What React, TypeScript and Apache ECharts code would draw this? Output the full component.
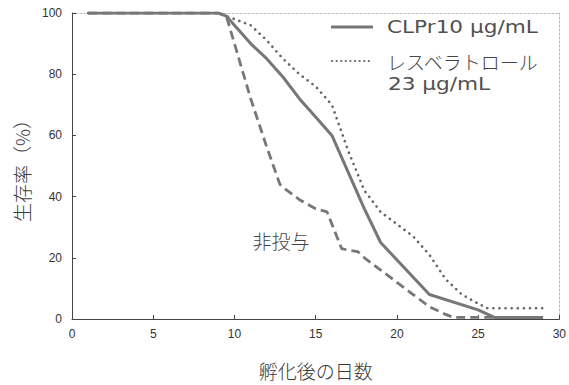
import React, { useEffect, useRef } from "react";
import * as echarts from "echarts";

const xTicks = [0, 5, 10, 15, 20, 25, 30];
const yTicks = [0, 20, 40, 60, 80, 100];

const clprName = "CLPr10 μg/mL";
const resName = "レスベラトロール";
const resName2 = "23 μg/mL";
const ctrlName = "非投与";
const xName = "孵化後の日数";
const yName = "生存率（%）";

const clprData: [number, number][] = [
  [1, 100], [9, 100], [9.5, 99], [10, 96], [11, 90], [12, 85], [13, 79], [14, 72],
  [15, 66], [16, 60], [17, 48], [18, 36], [19, 25], [22, 8], [25, 3], [26, 0.5], [29, 0.5],
];

const resData: [number, number][] = [
  [1, 100], [9, 100], [10, 98], [11, 96], [12, 91], [13, 85], [14, 80], [15, 76],
  [16, 70], [17, 55], [18, 42], [19, 35], [20, 31], [21, 27], [22, 21], [23, 13],
  [24, 8], [25, 5], [25.6, 3.5], [29, 3.5],
];

const ctrlData: [number, number][] = [
  [1, 100], [9, 100], [9.5, 99], [10, 90], [11, 72], [11.5, 64], [12, 56], [12.8, 44],
  [13, 43], [14, 39], [15, 36], [15.7, 35], [16, 31], [16.6, 23], [17, 22.5], [17.6, 22],
  [18, 20], [19, 16], [20, 12], [21, 8], [22, 4], [23, 1.5], [23.5, 0.5], [26, 0.5],
];

const FONT = "'Liberation Sans', 'Noto Sans CJK JP', sans-serif";
const LEG = "'DejaVu Sans', 'Noto Sans CJK JP', sans-serif";
const CJK = "'Noto Sans CJK JP', sans-serif";

export default function App() {
  const ref = useRef<HTMLDivElement>(null);
  useEffect(() => {
    if (!ref.current) return;
    const chart = echarts.init(ref.current, undefined, { renderer: "svg" });
    const gray = "#777";
    chart.setOption({
      animation: false,
      backgroundColor: "#fff",
      textStyle: { fontFamily: FONT },
      grid: { left: 72, right: 6, top: 13, bottom: 58 },
      xAxis: [
        {
          type: "value",
          min: 0,
          max: 30,
          interval: 5,
          name: xName,
          nameLocation: "middle",
          nameGap: 42,
          nameTextStyle: { fontSize: 19, color: "#3a3a3a", fontFamily: CJK, fontWeight: 300 },
          axisLine: { show: true, onZero: false, lineStyle: { color: "#444", width: 1 } },
          axisTick: { show: true, inside: true, length: 4, lineStyle: { color: "#444" } },
          axisLabel: {
            fontSize: 12, color: "#333", margin: 9, fontFamily: FONT,
            formatter: (v: number) => (xTicks.includes(v) ? String(v) : ""),
          },
          splitLine: { show: false },
        },
        {
          type: "value",
          position: "top",
          min: 0,
          max: 30,
          axisLine: { show: true, onZero: false, lineStyle: { color: "#bbb", width: 1, type: [2, 2] } },
          axisTick: { show: false },
          axisLabel: { show: false },
          splitLine: { show: false },
        },
      ],
      yAxis: [
        {
          type: "value",
          min: 0,
          max: 100,
          interval: 20,
          name: yName,
          nameLocation: "middle",
          nameGap: 32,
          nameRotate: 90,
          nameTextStyle: { fontSize: 19, color: "#3a3a3a", fontFamily: CJK, fontWeight: 300 },
          axisLine: { show: true, onZero: false, lineStyle: { color: "#444", width: 1 } },
          axisTick: { show: true, inside: true, length: 4, lineStyle: { color: "#444" } },
          axisLabel: {
            fontSize: 12, color: "#333", margin: 10, fontFamily: FONT,
            formatter: (v: number) => (yTicks.includes(v) ? String(v) : ""),
          },
          splitLine: { show: false },
        },
        {
          type: "value",
          position: "right",
          min: 0,
          max: 100,
          axisLine: { show: true, onZero: false, lineStyle: { color: "#bbb", width: 1, type: [2, 2] } },
          axisTick: { show: false },
          axisLabel: { show: false },
          splitLine: { show: false },
        },
      ],
      series: [
        {
          name: ctrlName,
          type: "line",
          data: ctrlData,
          showSymbol: false,
          symbol: "none",
          lineStyle: { color: gray, width: 2.8, type: [9, 5] },
        },
        {
          name: resName,
          type: "line",
          data: resData,
          showSymbol: false,
          symbol: "none",
          lineStyle: { color: "#666", width: 2.6, type: [0.1, 6], cap: "round" },
        },
        {
          name: clprName,
          type: "line",
          data: clprData,
          showSymbol: false,
          symbol: "none",
          lineStyle: { color: gray, width: 3 },
        },
      ],
      graphic: [
        {
          type: "line",
          shape: { x1: 331, y1: 27, x2: 373, y2: 27 },
          style: { stroke: gray, lineWidth: 3 },
        },
        {
          type: "line",
          shape: { x1: 332, y1: 61, x2: 373, y2: 61 },
          style: { stroke: "#666", lineWidth: 2.2, lineDash: [0.1, 4.5], lineCap: "round" },
        },
        {
          type: "text",
          x: 387,
          y: 27,
          scaleX: 1.2,
          style: { text: clprName, fontSize: 18, fill: "#505050", fontFamily: LEG, verticalAlign: "middle" },
        },
        {
          type: "text",
          x: 387,
          y: 61,
          style: { text: resName, fontSize: 19, fill: "#444", fontFamily: CJK, fontWeight: 300, verticalAlign: "middle" },
        },
        {
          type: "text",
          x: 388,
          y: 84,
          scaleX: 1.2,
          style: { text: resName2, fontSize: 18, fill: "#505050", fontFamily: LEG, verticalAlign: "middle" },
        },
        {
          type: "text",
          x: 281,
          y: 240,
          style: { text: ctrlName, fontSize: 19, fill: "#444", fontFamily: CJK, fontWeight: 300, align: "center", verticalAlign: "middle" },
        },
      ],
    });
    return () => chart.dispose();
  }, []);
  return (
    <div
      ref={ref}
      style={{ position: "fixed", left: 0, top: 0, width: 569, height: 385 }}
    />
  );
}
